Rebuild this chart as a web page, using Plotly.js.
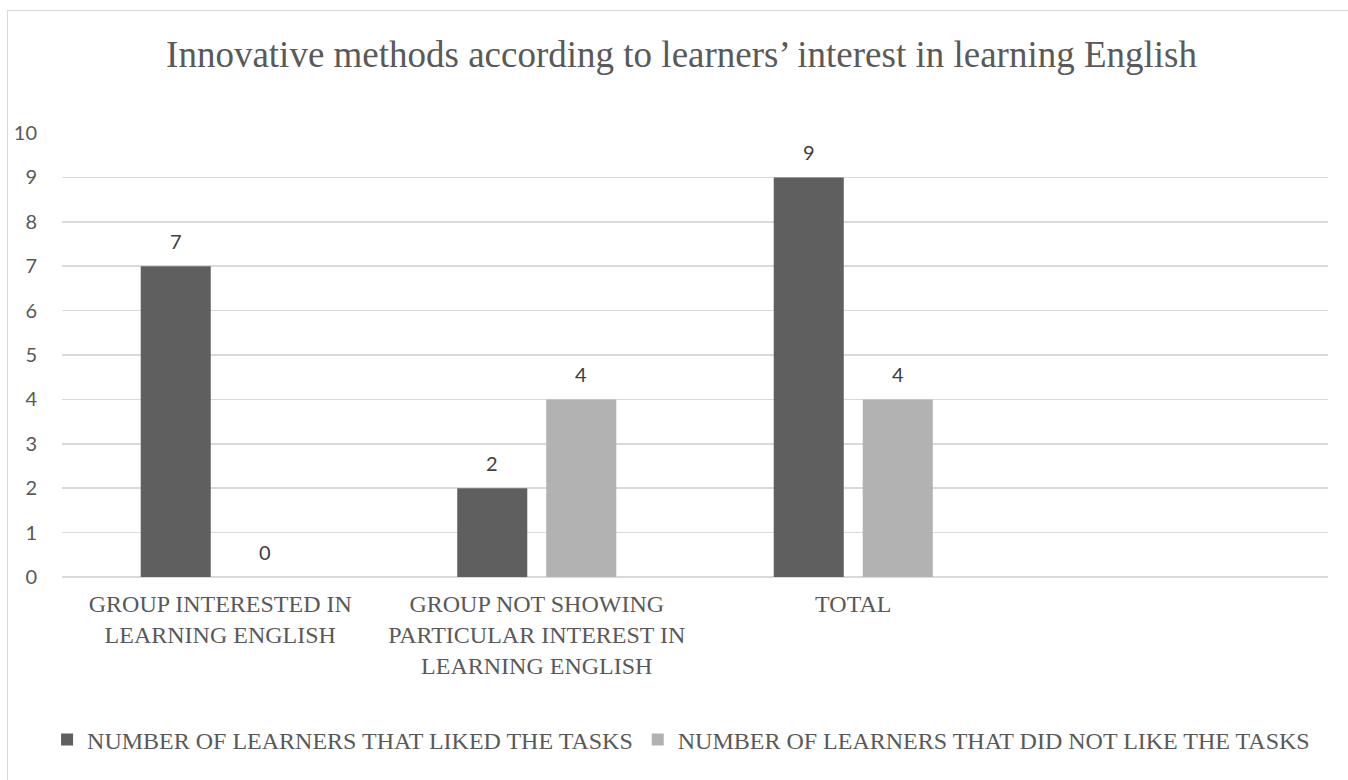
<!DOCTYPE html>
<html>
<head>
<meta charset="utf-8">
<script src="https://cdn.plot.ly/plotly-3.0.1.min.js"></script>
<style>
html,body{margin:0;padding:0;background:#fff;}
#wrap{position:relative;width:1348px;height:780px;overflow:hidden;}
#chart{position:absolute;left:0;top:0;width:1348px;height:780px;}
#frame{position:absolute;left:7px;top:10px;width:1360px;height:800px;border:1px solid #d9d9d9;pointer-events:none;box-sizing:border-box;}
</style>
</head>
<body>
<div id="wrap"><div id="chart"></div><div id="frame"></div></div>
<script>
const categories = [
  "GROUP INTERESTED IN<br>LEARNING ENGLISH",
  "GROUP NOT SHOWING<br>PARTICULAR INTEREST IN<br>LEARNING ENGLISH",
  "TOTAL"
];
const likedValues = [7, 2, 9];
const notLikedValues = [0, 4, 4];
const seriesNames = ["NUMBER OF LEARNERS THAT LIKED THE TASKS", "NUMBER OF LEARNERS THAT DID NOT LIKE THE TASKS"];
const seriesColors = ['#5f5f5f', '#b2b2b2'];
const yTicks = [0,1,2,3,4,5,6,7,8,9,10];

const sans = "Lato";
const serif = "Liberation Serif";

const seriesValues = [likedValues, notLikedValues];
const traces = seriesValues.map((vals, i) => ({
  type:'bar', name:seriesNames[i], x:categories, y:vals, marker:{color:seriesColors[i]},
  hoverinfo:'x+y'
}));

// value labels placed above each bar (offset to the bar's slot within its group)
const slotShift = 44.5;
const annotations = [];
seriesValues.forEach((vals, i) => {
  vals.forEach((v, j) => {
    annotations.push({
      x: categories[j], y: v, xref:'x', yref:'y', text: String(v), showarrow:false,
      xshift: (i === 0 ? -slotShift : slotShift), yanchor:'bottom', yshift: 11,
      font:{family:sans, size:20, color:'#404040'}
    });
  });
});

const layout = {
  width:1348, height:780,
  margin:{l:62, r:20, t:133, b:203},
  paper_bgcolor:'#fff', plot_bgcolor:'#fff',
  font:{family:serif, color:'#595959'},
  title:{text:"Innovative methods according to learners’ interest in learning English",
    font:{family:serif, size:37, color:'#595959'}, x:0.5056, xanchor:'center', y:0.931, yanchor:'middle'},
  barmode:'group', bargap:0.4376, bargroupgap:0.213,
  xaxis:{type:'category', range:[-0.5, 3.5], showgrid:false, showline:false, zeroline:false,
    tickfont:{family:serif, size:24, color:'#595959'}, ticks:'', ticklabelstandoff:10, fixedrange:true},
  yaxis:{range:[0,10], tickvals:yTicks, showgrid:true, gridcolor:'#d9d9d9', gridwidth:1.5,
    zeroline:true, zerolinecolor:'#d9d9d9', zerolinewidth:1.5, showline:false,
    tickfont:{family:sans, size:20, color:'#595959'}, ticks:'', ticklabelstandoff:24, fixedrange:true},
  legend:{orientation:'h', x:0.489, xanchor:'center', y:-0.367, yanchor:'middle',
    font:{family:serif, size:24, color:'#595959'}, itemclick:false, itemdoubleclick:false},
  annotations: annotations,
  showlegend:true
};

Plotly.newPlot('chart', traces, layout, {displayModeBar:false, staticPlot:true});
</script>
</body>
</html>
